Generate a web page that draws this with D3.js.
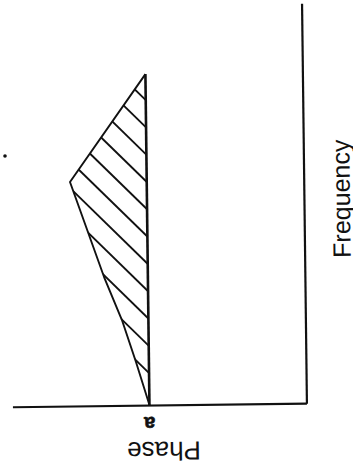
<!DOCTYPE html>
<html>
<head>
<meta charset="utf-8">
<script src="https://cdn.jsdelivr.net/npm/d3@7"></script>
<style>
  html, body { margin: 0; padding: 0; background: #fff; }
  svg { display: block; }
</style>
</head>
<body>
<script>
// Data (chart is drawn rotated: phase runs right-to-left, frequency bottom-to-top)
const curveFreq  = [82.75, 56.0, 32.15, 21.35, 10.8, 0];
const curvePhase = [53.4, 79.5, 68.3, 62.4, 57.8, 53.4];
const phaseA = 53.4;
const phaseTickLabels = ["a"];
const axisTitles = ["Phase", "Frequency"];

const W = 353, H = 468;
const svg = d3.select("body").append("svg").attr("width", W).attr("height", H);
const ink = "#111";
const font = "'Liberation Sans', Arial, sans-serif";
const g = svg.append("g").attr("transform", "rotate(-0.7,155,205)");

const x = d3.scaleLinear().domain([0, 100]).range([304, 10]); // phase
const y = d3.scaleLinear().domain([0, 100]).range([405, 5]);  // frequency

// Horizontal (phase) axis
const ax = g.append("g").attr("transform", `translate(0,${y(0)})`)
  .call(d3.axisBottom(x).tickValues([]).tickSizeOuter(0));
ax.select(".domain").attr("stroke", ink).attr("stroke-width", 2.2);

// tick label "a" (upside down, like the rest of the rotated chart)
g.append("text").text(phaseTickLabels[0])
  .attr("transform", `translate(${x(phaseA)},${y(0) + 12}) rotate(180)`)
  .attr("text-anchor", "middle").attr("fill", ink)
  .attr("stroke", ink).attr("stroke-width", 0.6)
  .style("font-family", font).style("font-size", "20px").style("font-weight", "bold");

// Vertical (frequency) axis
const ay = g.append("g").attr("transform", `translate(${x(0)},0)`)
  .call(d3.axisRight(y).tickValues([]).tickSizeOuter(0));
ay.select(".domain").attr("stroke", ink).attr("stroke-width", 2.2);

// Shape
const pts = curveFreq.map((f, i) => [x(curvePhase[i]), y(f)]);
const clip = svg.append("defs").append("clipPath").attr("id", "tri");
clip.append("polygon").attr("points", pts.map(p => p.join(",")).join(" "));

const hatch = g.append("g").attr("clip-path", "url(#tri)");
const xe = x(phaseA);
const hatchHits = d3.range(0, 11).map(k => 100 + 27.3 * k);
hatch.selectAll("line").data(hatchHits).join("line")
  .attr("x1", xe - 200).attr("y1", d => d - 200)
  .attr("x2", xe + 5).attr("y2", d => d + 5)
  .attr("stroke", ink).attr("stroke-width", 1.9);

const line = d3.line().curve(d3.curveLinear);
g.append("path").attr("d", line(pts))
  .attr("fill", "none").attr("stroke", ink).attr("stroke-width", 1.9)
  .attr("stroke-linejoin", "round");
g.append("line")
  .attr("x1", x(phaseA)).attr("y1", y(curveFreq[0]))
  .attr("x2", x(phaseA)).attr("y2", y(0))
  .attr("stroke", ink).attr("stroke-width", 2.6);

// Titles
g.append("text").text(axisTitles[0])
  .attr("transform", "translate(161,442) rotate(180)")
  .attr("text-anchor", "middle").attr("fill", ink)
  .style("font-family", font).style("font-size", "26px");
g.append("text").text(axisTitles[1])
  .attr("transform", "translate(350,201) rotate(-90)")
  .attr("text-anchor", "middle").attr("fill", ink)
  .style("font-family", font).style("font-size", "25px");

// stray dot
svg.append("circle").attr("cx", 5).attr("cy", 156).attr("r", 1.8).attr("fill", ink);
</script>
</body>
</html>
